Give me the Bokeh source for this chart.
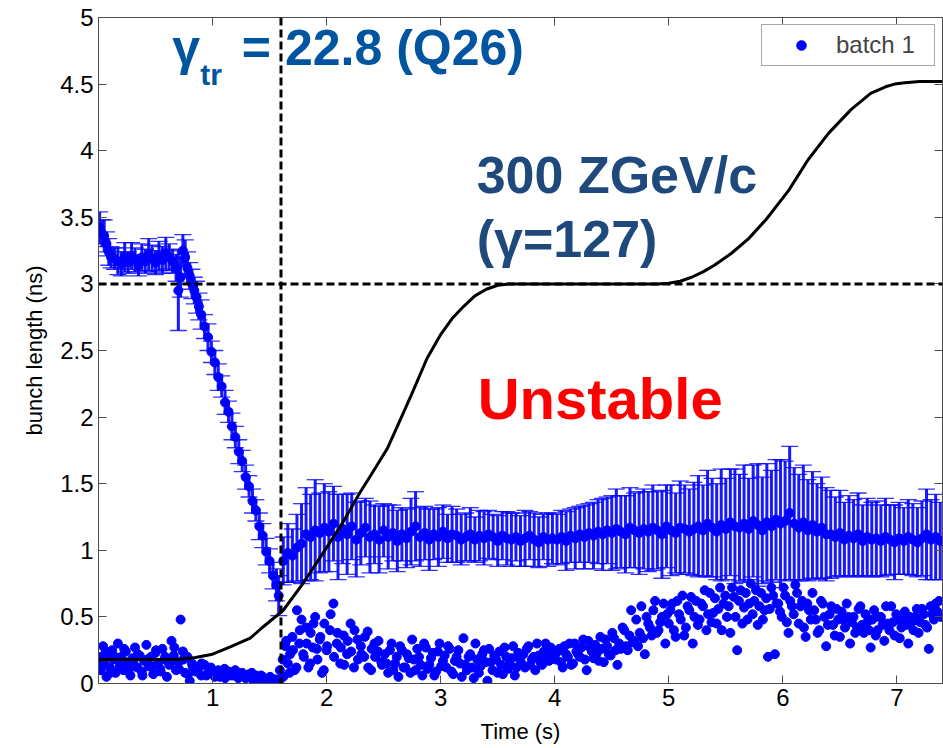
from bokeh.plotting import figure
from bokeh.models import (ColumnDataSource, Range1d, LinearAxis, FixedTicker, Label, Span,
                          Legend, LegendItem, Whisker, TeeHead, NumeralTickFormatter)
from bokeh.embed import file_html
from bokeh.resources import INLINE

# ---------------- data ----------------
# energy ramp curve (scaled to the bunch-length axis)
ramp_t = [0.0, 0.70, 0.85, 1.00, 1.14, 1.33, 1.45, 1.62, 1.80, 2.00, 2.15, 2.29, 2.40, 2.53,
          2.62, 2.75, 2.88, 3.00, 3.10, 3.20, 3.30, 3.40, 3.50, 3.60, 4.90, 5.00, 5.10, 5.20,
          5.30, 5.40, 5.55, 5.70, 5.85, 6.05, 6.22, 6.40, 6.60, 6.77, 6.90, 6.98, 7.07, 7.20,
          7.40]
ramp_v = [0.18, 0.18, 0.195, 0.22, 0.27, 0.34, 0.43, 0.55, 0.76, 1.02, 1.22, 1.43, 1.58, 1.76,
          1.93, 2.18, 2.44, 2.62, 2.74, 2.83, 2.91, 2.96, 2.99, 3.00, 3.00, 3.005, 3.02, 3.05,
          3.09, 3.14, 3.23, 3.34, 3.48, 3.70, 3.93, 4.13, 4.31, 4.43, 4.48, 4.50, 4.51, 4.52,
          4.52]

# batch 1 - series with error bars
err_t = [0.01, 0.03, 0.05, 0.07, 0.09, 0.11,
         0.14, 0.17, 0.20, 0.23, 0.26, 0.29, 0.32, 0.35, 0.38, 0.41, 0.44, 0.47, 0.50, 0.53,
         0.56, 0.59, 0.62, 0.65, 0.68,
         0.70, 0.72, 0.74, 0.76, 0.78, 0.80, 0.82, 0.84, 0.86, 0.88, 0.90,
         0.93, 0.96, 0.99, 1.02, 1.05, 1.08, 1.11, 1.14, 1.17, 1.20, 1.23, 1.26, 1.29, 1.32,
         1.35, 1.38, 1.41, 1.44, 1.47, 1.50, 1.53, 1.56, 1.58,
         1.62, 1.66, 1.70, 1.74, 1.78, 1.82, 1.86, 1.90, 1.94, 1.98,
         2.02, 2.06, 2.10, 2.14, 2.18, 2.22, 2.26, 2.30, 2.34, 2.38,
         2.42, 2.46, 2.50, 2.54, 2.58, 2.62, 2.66, 2.70, 2.74, 2.78,
         2.82, 2.86, 2.90, 2.94, 2.98, 3.02, 3.06, 3.10, 3.14, 3.18,
         3.22, 3.26, 3.30, 3.34, 3.38, 3.42, 3.46, 3.50, 3.54, 3.58,
         3.62, 3.66, 3.70, 3.74, 3.78, 3.82, 3.86, 3.90, 3.94, 3.98,
         4.02, 4.06, 4.10, 4.14, 4.18, 4.22, 4.26, 4.30, 4.34, 4.38,
         4.42, 4.46, 4.50, 4.54, 4.58, 4.62, 4.66, 4.70, 4.74, 4.78,
         4.82, 4.86, 4.90, 4.94, 4.98, 5.02, 5.06, 5.10, 5.14, 5.18,
         5.22, 5.26, 5.30, 5.34, 5.38, 5.42, 5.46, 5.50, 5.54, 5.58,
         5.62, 5.66, 5.70, 5.74, 5.78, 5.82, 5.86, 5.90, 5.94, 5.98,
         6.02, 6.06, 6.10, 6.14, 6.18, 6.22, 6.26, 6.30, 6.34, 6.38,
         6.42, 6.46, 6.50, 6.54, 6.58, 6.62, 6.66, 6.70, 6.74, 6.78,
         6.82, 6.86, 6.90, 6.94, 6.98, 7.02, 7.06, 7.10, 7.14, 7.18,
         7.22, 7.26, 7.30, 7.34, 7.38]
err_len = [3.42, 3.38, 3.36, 3.30, 3.24, 3.20,
           3.19, 3.17, 3.15, 3.20, 3.16, 3.21, 3.18, 3.14, 3.20, 3.17, 3.22, 3.19, 3.16, 3.21,
           3.18, 3.23, 3.20, 3.17, 3.12,
           2.95, 3.05, 3.25, 3.20, 3.12, 3.06, 3.00, 2.95, 2.90, 2.83, 2.77,
           2.68, 2.60, 2.49, 2.41, 2.30, 2.23, 2.11, 2.04, 1.93, 1.85, 1.74, 1.67, 1.55, 1.48,
           1.37, 1.30, 1.18, 1.11, 0.99, 0.92, 0.81, 0.74, 0.66,
           0.92, 0.98, 0.96, 1.02, 1.05, 1.12, 1.10, 1.15, 1.13, 1.17,
           1.14, 1.20, 1.10, 1.16, 1.12, 1.18, 1.08, 1.13, 1.17, 1.10,
           1.12, 1.08, 1.15, 1.10, 1.13, 1.07, 1.12, 1.09, 1.14, 1.18,
           1.10, 1.13, 1.08, 1.12, 1.10, 1.14, 1.09, 1.12, 1.11, 1.08,
           1.10, 1.12, 1.08, 1.11, 1.09, 1.12, 1.10, 1.07, 1.11, 1.09,
           1.08, 1.10, 1.07, 1.09, 1.11, 1.08, 1.06, 1.10, 1.08, 1.09,
           1.08, 1.10, 1.07, 1.11, 1.09, 1.12, 1.10, 1.13, 1.11, 1.14,
           1.12, 1.15, 1.13, 1.16, 1.14, 1.12, 1.17, 1.15, 1.13, 1.16,
           1.14, 1.17, 1.15, 1.12, 1.18, 1.15, 1.13, 1.17, 1.16, 1.14,
           1.16, 1.18, 1.15, 1.20, 1.17, 1.14, 1.19, 1.16, 1.21, 1.18,
           1.17, 1.20, 1.16, 1.22, 1.19, 1.15, 1.21, 1.18, 1.23, 1.20,
           1.22, 1.28, 1.20, 1.17, 1.21, 1.15, 1.19, 1.14, 1.17, 1.12,
           1.12, 1.10, 1.13, 1.08, 1.11, 1.09, 1.12, 1.07, 1.10, 1.08,
           1.09, 1.07, 1.10, 1.08, 1.06, 1.09, 1.07, 1.10, 1.08, 1.06,
           1.09, 1.12, 1.08, 1.10, 1.07]
err_half = [0.12, 0.10, 0.12, 0.09, 0.10, 0.08,
            0.08, 0.10, 0.09, 0.11, 0.08, 0.10, 0.09, 0.08, 0.10, 0.09, 0.12, 0.10, 0.09, 0.11,
            0.10, 0.12, 0.10, 0.09, 0.10,
            0.30, 0.15, 0.12, 0.13, 0.12, 0.10, 0.11, 0.10, 0.12, 0.10, 0.11,
            0.09, 0.10, 0.08, 0.09, 0.10, 0.08, 0.09, 0.08, 0.10, 0.08, 0.09, 0.08, 0.09, 0.08,
            0.09, 0.08, 0.10, 0.09, 0.10, 0.09, 0.10, 0.12, 0.15,
            0.18, 0.22, 0.20, 0.25, 0.30, 0.35, 0.32, 0.38, 0.30, 0.33,
            0.30, 0.28, 0.32, 0.26, 0.30, 0.25, 0.28, 0.24, 0.22, 0.27,
            0.22, 0.25, 0.20, 0.24, 0.21, 0.23, 0.20, 0.22, 0.25, 0.26,
            0.22, 0.20, 0.23, 0.19, 0.22, 0.20, 0.18, 0.21, 0.20, 0.19,
            0.18, 0.20, 0.17, 0.19, 0.20, 0.18, 0.17, 0.19, 0.18, 0.20,
            0.20, 0.18, 0.19, 0.21, 0.18, 0.20, 0.19, 0.17, 0.20, 0.19,
            0.19, 0.20, 0.22, 0.20, 0.23, 0.21, 0.24, 0.22, 0.25, 0.24,
            0.27, 0.25, 0.28, 0.30, 0.27, 0.29, 0.30, 0.28, 0.31, 0.30,
            0.30, 0.32, 0.29, 0.33, 0.31, 0.34, 0.30, 0.35, 0.33, 0.32,
            0.35, 0.38, 0.34, 0.40, 0.37, 0.36, 0.42, 0.38, 0.40, 0.43,
            0.40, 0.44, 0.38, 0.42, 0.46, 0.40, 0.44, 0.42, 0.45, 0.48,
            0.45, 0.50, 0.42, 0.40, 0.43, 0.38, 0.40, 0.36, 0.38, 0.35,
            0.33, 0.30, 0.32, 0.28, 0.30, 0.29, 0.31, 0.27, 0.29, 0.28,
            0.28, 0.27, 0.29, 0.26, 0.28, 0.27, 0.25, 0.28, 0.27, 0.26,
            0.28, 0.34, 0.30, 0.32, 0.29]

# batch 1 - plain dots
dot_t = [0.01, 0.02, 0.04, 0.05, 0.07, 0.08, 0.10, 0.12, 0.13, 0.15,
         0.17, 0.19, 0.20, 0.22, 0.24, 0.26, 0.28, 0.30, 0.32, 0.34,
         0.36, 0.38, 0.40, 0.42, 0.44, 0.46, 0.48, 0.50, 0.52, 0.54,
         0.56, 0.58, 0.60, 0.62, 0.64, 0.66, 0.68, 0.70, 0.72, 0.74,
         0.76, 0.78, 0.80, 0.82, 0.85, 0.88, 0.90, 0.93, 0.96, 0.99,
         1.02, 1.05, 1.08, 1.11, 1.14, 1.17, 1.20, 1.23, 1.26, 1.29,
         1.32, 1.35, 1.38, 1.41, 1.44, 1.47, 1.50, 1.53, 1.56, 1.59,
         1.62, 1.64, 1.66, 1.68, 1.70, 1.72, 1.74, 1.76, 1.78, 1.80,
         1.82, 1.84, 1.86, 1.88, 1.90, 1.92, 1.94, 1.96, 1.98, 2.00,
         2.03, 2.06, 2.09, 2.12, 2.15, 2.18, 2.21, 2.24, 2.27, 2.30,
         2.33, 2.36, 2.39, 2.42, 2.45, 2.48,
         2.51, 2.54, 2.57, 2.60, 2.63, 2.66, 2.69, 2.72, 2.75, 2.78,
         2.81, 2.84, 2.87, 2.90, 2.93, 2.96, 2.99, 3.02, 3.05, 3.08,
         3.11, 3.14, 3.17, 3.20, 3.23, 3.26, 3.29, 3.32, 3.35, 3.38,
         3.41, 3.44, 3.47, 3.50, 3.53, 3.56, 3.59, 3.62, 3.65, 3.68,
         3.71, 3.74, 3.77, 3.80, 3.83, 3.86, 3.89, 3.92, 3.95, 3.98,
         4.01, 4.04, 4.07, 4.10, 4.13, 4.16, 4.19, 4.22, 4.25, 4.28,
         4.31, 4.34, 4.37, 4.40, 4.43, 4.46, 4.49, 4.52, 4.55, 4.58,
         4.61, 4.64, 4.67, 4.70, 4.73, 4.76, 4.79, 4.82, 4.85, 4.88,
         4.91, 4.94, 4.97,
         5.00, 5.03, 5.06, 5.09, 5.12, 5.15, 5.18, 5.21, 5.24, 5.27,
         5.30, 5.33, 5.36, 5.39, 5.42, 5.45, 5.48, 5.51, 5.54, 5.57,
         5.60, 5.63, 5.66, 5.69, 5.72, 5.75, 5.78, 5.81, 5.84, 5.87,
         5.90, 5.93, 5.96, 5.99, 6.02, 6.05, 6.08, 6.11, 6.14, 6.17,
         6.20, 6.23, 6.26, 6.29, 6.32, 6.35, 6.38, 6.41, 6.44, 6.47,
         6.50, 6.53, 6.56, 6.59, 6.62, 6.65, 6.68, 6.71, 6.74, 6.77,
         6.80, 6.83, 6.86, 6.89, 6.92, 6.95, 6.98, 7.01, 7.04, 7.07,
         7.10, 7.13, 7.16, 7.19, 7.22, 7.25, 7.28, 7.31, 7.34, 7.37,
         # second interleaved read-out
         0.025, 0.065, 0.105, 0.145, 0.185, 0.225, 0.265, 0.305, 0.345, 0.385,
         0.425, 0.465, 0.505, 0.545, 0.585, 0.625, 0.665, 0.705, 0.745, 0.785,
         0.825, 0.865, 0.905, 0.945, 0.985, 1.025, 1.065, 1.105, 1.145, 1.185,
         1.225, 1.265, 1.305, 1.345, 1.385, 1.425, 1.465, 1.505, 1.545, 1.585,
         1.615, 1.645, 1.675, 1.705, 1.735, 1.765, 1.795, 1.825, 1.855, 1.885,
         1.915, 1.945, 1.975, 2.005, 2.035, 2.065, 2.095, 2.125, 2.155, 2.185,
         2.215, 2.245, 2.275, 2.305, 2.335, 2.365, 2.395, 2.425, 2.455, 2.485,
         2.525, 2.555, 2.585, 2.615, 2.645, 2.675, 2.705, 2.735, 2.765, 2.795,
         2.825, 2.855, 2.885, 2.915, 2.945, 2.975, 3.005, 3.035, 3.065, 3.095,
         3.125, 3.155, 3.185, 3.215, 3.245, 3.275, 3.305, 3.335, 3.365, 3.395,
         3.425, 3.455, 3.485, 3.515, 3.545, 3.575, 3.605, 3.635, 3.665, 3.695,
         3.725, 3.755, 3.785, 3.815, 3.845, 3.875, 3.905, 3.935, 3.965, 3.995,
         4.025, 4.055, 4.085, 4.115, 4.145, 4.175, 4.205, 4.235, 4.265, 4.295,
         4.325, 4.355, 4.385, 4.415, 4.445, 4.475, 4.505, 4.535, 4.565, 4.595,
         4.625, 4.655, 4.685, 4.715, 4.745, 4.775, 4.805, 4.835, 4.865, 4.895,
         4.925, 4.955, 4.985,
         5.015, 5.045, 5.075, 5.105, 5.135, 5.165, 5.195, 5.225, 5.255, 5.285,
         5.315, 5.345, 5.375, 5.405, 5.435, 5.465, 5.495, 5.525, 5.555, 5.585,
         5.615, 5.645, 5.675, 5.705, 5.735, 5.765, 5.795, 5.825, 5.855, 5.885,
         5.915, 5.945, 5.975, 6.005, 6.035, 6.065, 6.095, 6.125, 6.155, 6.185,
         6.215, 6.245, 6.275, 6.305, 6.335, 6.365, 6.395, 6.425, 6.455, 6.485,
         6.515, 6.545, 6.575, 6.605, 6.635, 6.665, 6.695, 6.725, 6.755, 6.785,
         6.815, 6.845, 6.875, 6.905, 6.935, 6.965, 6.995, 7.025, 7.055, 7.085,
         7.115, 7.145, 7.175, 7.205, 7.235, 7.265, 7.295, 7.325, 7.355, 7.385]
dot_len = [0.20, 0.10, 0.28, 0.15, 0.05, 0.22, 0.12, 0.25, 0.18, 0.08,
           0.30, 0.14, 0.20, 0.10, 0.24, 0.16, 0.06, 0.19, 0.27, 0.12,
           0.21, 0.09, 0.17, 0.29, 0.13, 0.20, 0.07, 0.23, 0.15, 0.11,
           0.26, 0.18, 0.05, 0.14, 0.32, 0.21, 0.10, 0.16, 0.48, 0.24,
           0.08, 0.20, 0.02, 0.15, 0.09, 0.12, 0.06, 0.14, 0.08, 0.11,
           0.05, 0.10, 0.07, 0.04, 0.09, 0.06, 0.10, 0.05, 0.08, 0.04,
           0.07, 0.03, 0.06, 0.04, 0.05, 0.02, 0.04, 0.01, 0.03, 0.10,
           0.05, 0.28, 0.15, 0.22, 0.35, 0.10, 0.55, 0.30, 0.48, 0.20,
           0.42, 0.12, 0.38, 0.27, 0.50, 0.18, 0.33, 0.08, 0.45, 0.25,
           0.40, 0.60, 0.30, 0.15, 0.36, 0.22, 0.45, 0.12, 0.33, 0.28,
           0.20, 0.39, 0.10, 0.30, 0.24, 0.16,
           0.22, 0.08, 0.30, 0.15, 0.05, 0.25, 0.12, 0.19, 0.33, 0.10,
           0.20, 0.06, 0.27, 0.14, 0.23, 0.09, 0.30, 0.17, 0.12, 0.26,
           0.07, 0.20, 0.15, 0.34, 0.10, 0.22, 0.04, 0.18, 0.13, 0.25,
           0.02, 0.16, 0.21, 0.08, 0.14, 0.27, 0.11, 0.19, 0.06, 0.23,
           0.15, 0.12, 0.28, 0.18, 0.10, 0.21, 0.14, 0.30, 0.17, 0.22,
           0.18, 0.26, 0.12, 0.22, 0.30, 0.15, 0.24, 0.20, 0.33, 0.10,
           0.27, 0.19, 0.23, 0.35, 0.16, 0.28, 0.21, 0.34, 0.14, 0.26,
           0.40, 0.25, 0.55, 0.32, 0.28, 0.58, 0.22, 0.45, 0.36, 0.62,
           0.40, 0.50, 0.30,
           0.45, 0.60, 0.35, 0.52, 0.66, 0.42, 0.55, 0.30, 0.62, 0.48,
           0.58, 0.40, 0.68, 0.53, 0.45, 0.72, 0.60, 0.50, 0.38, 0.65,
           0.25, 0.70, 0.57, 0.48, 0.75, 0.62, 0.44, 0.68, 0.55, 0.20,
           0.72, 0.22, 0.60, 0.50, 0.66, 0.38, 0.58, 0.74, 0.45, 0.62,
           0.35, 0.55, 0.68, 0.48, 0.40, 0.60, 0.28, 0.52, 0.44, 0.56,
           0.35, 0.48, 0.60, 0.30, 0.50, 0.42, 0.58, 0.38, 0.46, 0.27,
           0.55, 0.40, 0.50, 0.32, 0.45, 0.58, 0.36, 0.48, 0.42, 0.54,
           0.30, 0.46, 0.50, 0.38, 0.56, 0.44, 0.26, 0.52, 0.60, 0.62,
           # second interleaved read-out
           0.14, 0.24, 0.08, 0.20, 0.12, 0.26, 0.10, 0.16, 0.22, 0.06,
           0.18, 0.13, 0.25, 0.09, 0.20, 0.15, 0.27, 0.11, 0.18, 0.07,
           0.13, 0.10, 0.15, 0.06, 0.12, 0.08, 0.05, 0.11, 0.07, 0.09,
           0.04, 0.07, 0.05, 0.08, 0.03, 0.06, 0.02, 0.05, 0.03, 0.02,
           0.18, 0.32, 0.08, 0.25, 0.12, 0.40, 0.22, 0.30, 0.15, 0.45,
           0.26, 0.35, 0.10, 0.28, 0.52, 0.20, 0.38, 0.27, 0.14, 0.32,
           0.24, 0.40, 0.18, 0.22, 0.35, 0.12, 0.26, 0.20, 0.32, 0.14,
           0.15, 0.25, 0.10, 0.20, 0.28, 0.12, 0.22, 0.08, 0.18, 0.26,
           0.14, 0.30, 0.11, 0.19, 0.06, 0.24, 0.13, 0.21, 0.28, 0.09,
           0.17, 0.25, 0.05, 0.14, 0.20, 0.12, 0.30, 0.08, 0.22, 0.16,
           0.26, 0.10, 0.18, 0.24, 0.07, 0.20, 0.15, 0.28, 0.12, 0.18,
           0.22, 0.26, 0.14, 0.20, 0.30, 0.16, 0.24, 0.19, 0.27, 0.21,
           0.24, 0.16, 0.28, 0.20, 0.14, 0.30, 0.22, 0.27, 0.18, 0.32,
           0.24, 0.29, 0.17, 0.26, 0.33, 0.22, 0.38, 0.25, 0.30, 0.42,
           0.28, 0.36, 0.31, 0.48, 0.38, 0.34, 0.50, 0.42, 0.55, 0.38,
           0.46, 0.60, 0.52,
           0.55, 0.40, 0.62, 0.48, 0.36, 0.58, 0.65, 0.50, 0.44, 0.60,
           0.70, 0.52, 0.46, 0.64, 0.56, 0.40, 0.66, 0.58, 0.72, 0.50,
           0.62, 0.45, 0.68, 0.60, 0.52, 0.70, 0.58, 0.48, 0.64, 0.56,
           0.66, 0.60, 0.54, 0.72, 0.46, 0.62, 0.52, 0.68, 0.58, 0.42,
           0.60, 0.48, 0.55, 0.38, 0.62, 0.50, 0.44, 0.58, 0.36, 0.48,
           0.54, 0.42, 0.50, 0.46, 0.38, 0.56, 0.44, 0.52, 0.40, 0.48,
           0.36, 0.50, 0.44, 0.58, 0.40, 0.46, 0.52, 0.34, 0.48, 0.44,
           0.50, 0.40, 0.56, 0.46, 0.52, 0.42, 0.58, 0.48, 0.54, 0.50]

x_ticks = [1, 2, 3, 4, 5, 6, 7]
y_ticks = [0, 0.5, 1, 1.5, 2, 2.5, 3, 3.5, 4, 4.5, 5]
transition_time = 1.6      # gamma transition crossing
flat_top_level = 3.0       # reference level

# ---------------- figure ----------------
FONT = "Liberation Sans"
BLUE = "#0000FF"
AX = "#4d4d4d"

p = figure(width=943, height=748, x_range=Range1d(0, 7.4), y_range=Range1d(0, 5),
           output_backend="svg", toolbar_location=None,
           min_border_left=98, min_border_right=1, min_border_top=17, min_border_bottom=65,
           x_axis_label="Time (s)", y_axis_label="bunch length (ns)")
p.xgrid.visible = False
p.ygrid.visible = False
p.outline_line_color = AX
p.outline_line_width = 1
p.background_fill_color = "white"
p.border_fill_color = "white"


def style_axis(ax, show_labels=True):
    ax.major_tick_in = 8
    ax.major_tick_out = 0
    ax.minor_tick_line_color = None
    ax.axis_line_color = AX
    ax.major_tick_line_color = AX
    ax.major_label_text_font = FONT
    if show_labels:
        ax.major_label_text_color = "black"
        ax.major_label_text_font_size = "24px"
        ax.major_label_standoff = 5
    else:
        ax.major_label_text_color = None
        ax.major_label_text_font_size = "0px"
        ax.major_label_standoff = 0


p.xaxis.ticker = FixedTicker(ticks=x_ticks)
p.yaxis.ticker = FixedTicker(ticks=y_ticks)
p.yaxis.formatter = NumeralTickFormatter(format="0.[0]")
for ax in (p.xaxis[0], p.yaxis[0]):
    style_axis(ax)
    ax.axis_label_text_font = FONT
    ax.axis_label_text_font_size = "22px"
    ax.axis_label_text_font_style = "normal"
    ax.axis_label_text_color = "black"
p.xaxis.axis_label_standoff = 10
p.yaxis.axis_label_standoff = 10

top_ax = LinearAxis(ticker=FixedTicker(ticks=x_ticks))
style_axis(top_ax, show_labels=False)
p.add_layout(top_ax, "above")
right_ax = LinearAxis(ticker=FixedTicker(ticks=y_ticks))
style_axis(right_ax, show_labels=False)
p.add_layout(right_ax, "right")

# error bars
lower = [v - e for v, e in zip(err_len, err_half)]
upper = [v + e for v, e in zip(err_len, err_half)]
src_err = ColumnDataSource(dict(t=err_t, v=err_len, lo=lower, hi=upper))
whisk = Whisker(source=src_err, base="t", lower="lo", upper="hi", dimension="height",
                line_color=BLUE, line_width=3, line_alpha=0.9,
                upper_head=TeeHead(size=17, line_color=BLUE, line_width=1.3, line_alpha=0.8),
                lower_head=TeeHead(size=17, line_color=BLUE, line_width=1.3, line_alpha=0.8))
p.add_layout(whisk)
p.scatter("t", "v", source=src_err, size=9, color=BLUE)

# dots
src_dot = ColumnDataSource(dict(t=dot_t, v=dot_len))
dots = p.scatter("t", "v", source=src_dot, size=9, color=BLUE)

# reference lines
p.add_layout(Span(location=transition_time, dimension="height", line_color="black",
                  line_width=3, line_dash="8 4"))
p.add_layout(Span(location=flat_top_level, dimension="width", line_color="black",
                  line_width=3, line_dash="8 4"))

# ramp curve
p.line(ramp_t, ramp_v, line_color="black", line_width=3, line_join="round")

# annotations
def add_label(x, y, text, size, color):
    p.add_layout(Label(x=x, y=y, text=text, text_font=FONT, text_font_style="bold",
                       text_font_size=size, text_color=color, text_baseline="alphabetic"))

GTR = "#0054A0"
add_label(0.647, 4.77, "γ", "50px", GTR)
add_label(0.892, 4.57, "tr", "30px", GTR)
add_label(1.257, 4.77, "= 22.8 (Q26)", "50px", GTR)
add_label(3.316, 3.82, "300 ZGeV/c", "52px", "#1F497D")
add_label(3.316, 3.335, "(γ=127)", "52px", "#1F497D")
add_label(3.325, 2.14, "Unstable", "58px", "#FF0000")

legend = Legend(items=[LegendItem(label="batch 1", renderers=[dots])],
                location="top_right", margin=7, padding=6, spacing=0,
                glyph_width=66, glyph_height=24, label_standoff=2, label_width=92,
                label_text_font=FONT, label_text_font_size="24px",
                border_line_color=AX, border_line_width=1,
                background_fill_color="white", background_fill_alpha=1)
p.add_layout(legend)

open("out.html", "w").write(file_html(p, INLINE))
